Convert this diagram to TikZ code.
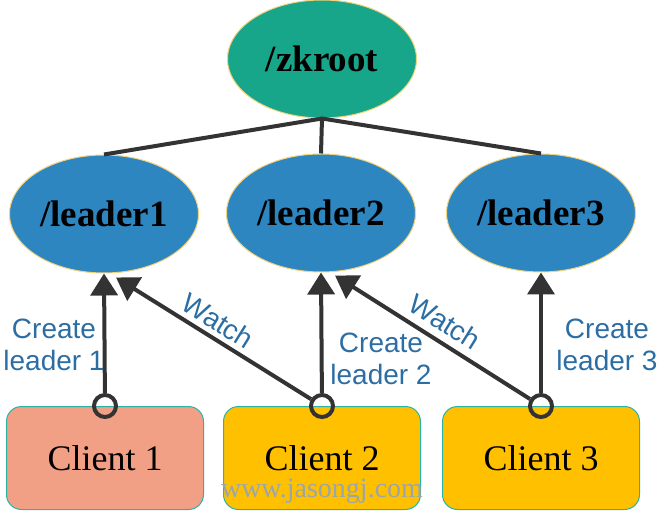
\documentclass[tikz,border=0pt]{standalone}
\usepackage{fontspec}
\setmainfont{Liberation Serif}
\setsansfont{Liberation Sans}
\usetikzlibrary{shapes.geometric,arrows.meta,calc}
\definecolor{rootc}{HTML}{18A68A}
\definecolor{leadc}{HTML}{2E86C1}
\definecolor{rimc}{HTML}{F3D27C}
\definecolor{cl1}{HTML}{F1A085}
\definecolor{cl2}{HTML}{FFC000}
\definecolor{boxrim}{HTML}{2BB3A5}
\definecolor{labc}{HTML}{2C6EA3}
\definecolor{linec}{HTML}{333333}
\definecolor{wmc}{HTML}{9AA6AC}
\tikzset{
  zknode/.style={ellipse, draw=rimc, line width=1pt, minimum width=189pt, minimum height=118pt, inner sep=0pt,
    font=\fontsize{37}{40}\selectfont\bfseries},
  clientbox/.style={rectangle, rounded corners=15pt, draw=boxrim, line width=1pt, minimum width=197pt, minimum height=103pt,
    font=\fontsize{36}{40}\selectfont},
  tree/.style={draw=linec, line width=4pt},
  arr/.style={draw=linec, line width=4pt, -{Triangle[length=22pt,width=27pt]}},
  knob/.style={circle, draw=linec, line width=4pt, minimum size=22pt, inner sep=0pt},
  lab/.style={text=labc, font=\sffamily\fontsize{28}{32}\selectfont, align=center, inner sep=0pt},
}
\begin{document}
\begin{tikzpicture}[x=1pt,y=-1pt]
\useasboundingbox (0,0) rectangle (659,513);
\node[zknode, fill=rootc] (root) at (322,59) {/zkroot};
\node[zknode, fill=leadc] (l1) at (104,214) {/leader1};
\node[zknode, fill=leadc] (l2) at (321,213) {/leader2};
\node[zknode, fill=leadc] (l3) at (541,213) {/leader3};
\draw[tree] (l1.north) -- (root.south) -- (l3.north);
\draw[tree] (root.south) -- (l2.north);
\node[clientbox, fill=cl1] (c1) at (105,458) {Client 1};
\node[clientbox, fill=cl2] (c2) at (322,458) {Client 2};
\node[clientbox, fill=cl2] (c3) at (541,458) {Client 3};
\node[knob] (k1) at (c1.north) {};
\node[knob] (k2) at (c2.north) {};
\node[knob] (k3) at (c3.north) {};
\coordinate (w1) at ($(l1.south)+(12,4)$);
\coordinate (w2) at ($(l2.south)+(14,3)$);
\draw[arr] (k1) -- (l1.south);
\draw[arr] (k2) -- (w1);
\draw[arr] (k2) -- (l2.south);
\draw[arr] (k3) -- (w2);
\draw[arr] (k3) -- (l3.south);
\node[lab] (t1) at (54,345) {Create\\leader 1};
\node[lab] (t2) at (381,359) {Create\\leader 2};
\node[lab] (t3) at (607,345) {Create\\leader 3};
\node[lab, rotate=-32] (t4) at (218,321) {Watch};
\node[lab, rotate=-32] (t5) at (445,322) {Watch};
\node[text=wmc, font=\fontsize{28}{30}\selectfont, inner sep=0pt] (wm) at (322,491) {www.jasongj.com};
\end{tikzpicture}
\end{document}
